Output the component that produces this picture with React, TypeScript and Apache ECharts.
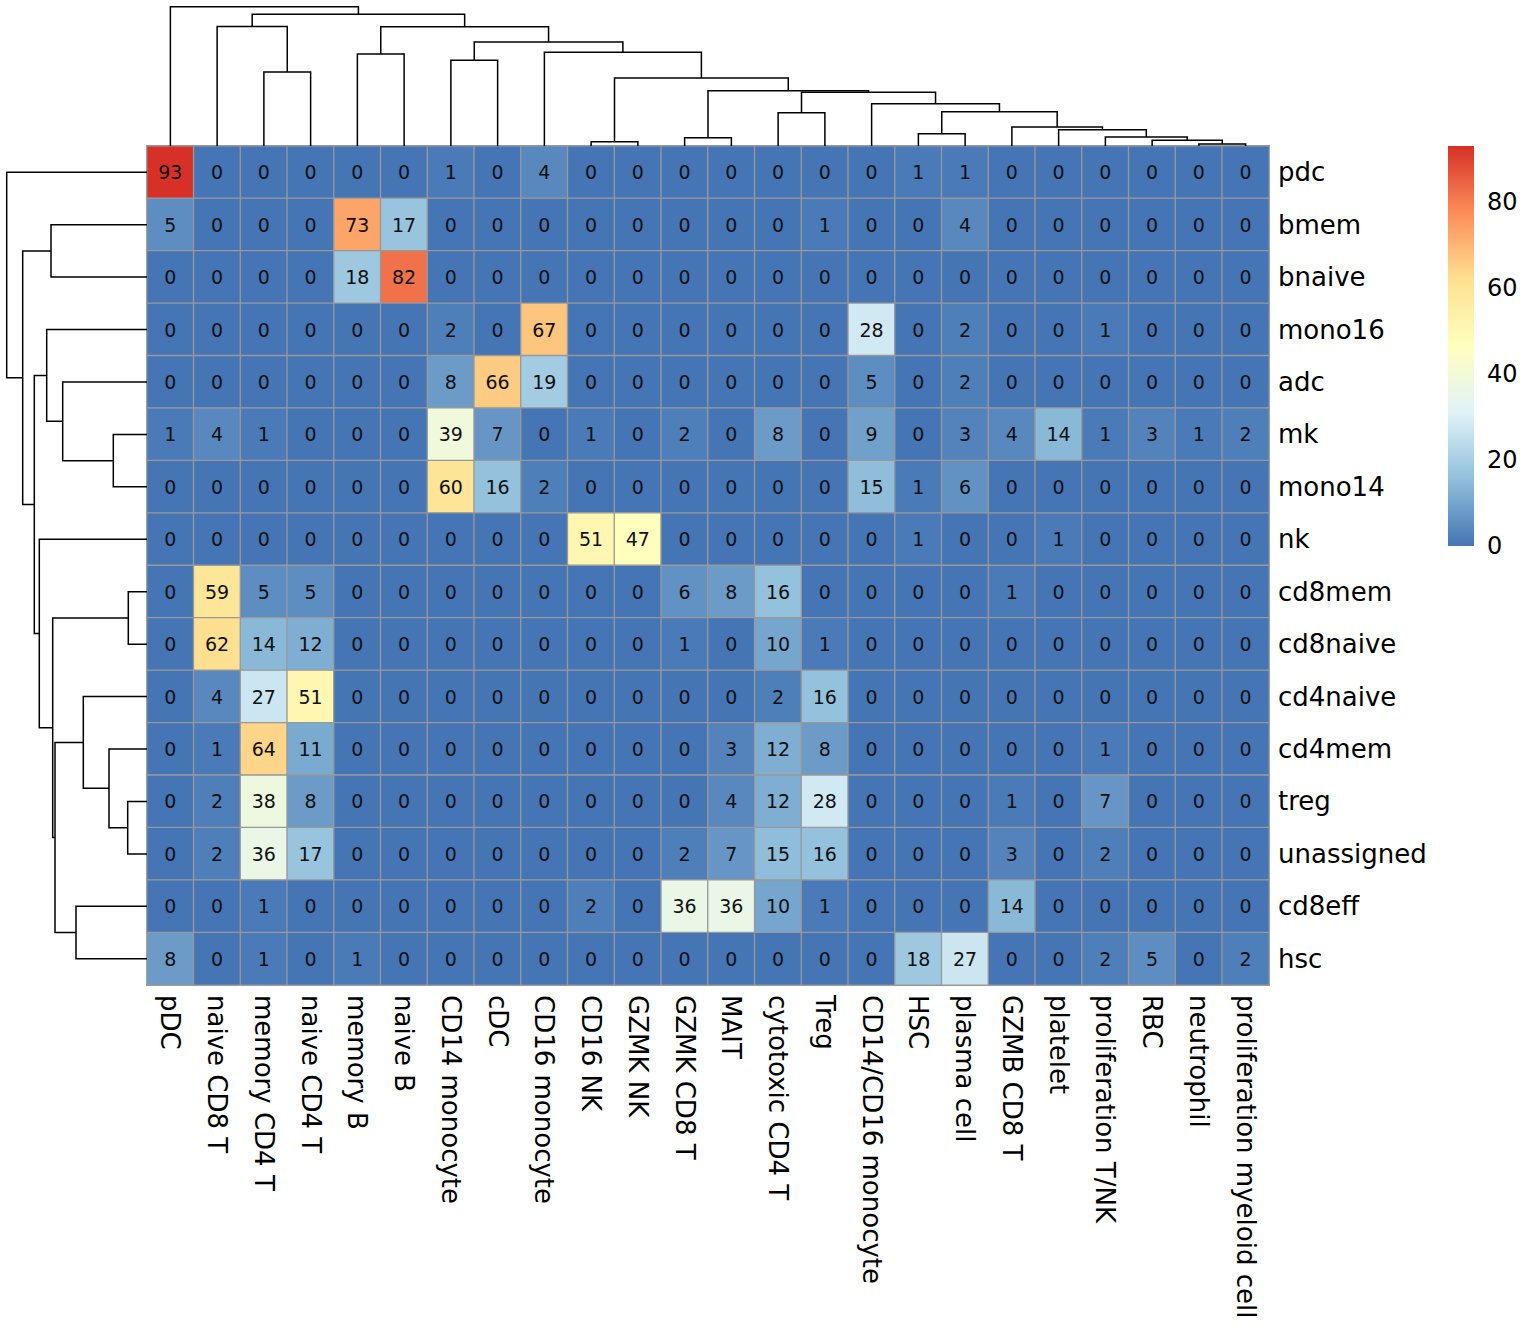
import React, { useEffect, useRef } from "react";
import * as echarts from "echarts";

const colLabels = [
  "pDC", "naive CD8 T", "memory CD4 T", "naive CD4 T", "memory B", "naive B",
  "CD14 monocyte", "cDC", "CD16 monocyte", "CD16 NK", "GZMK NK", "GZMK CD8 T",
  "MAIT", "cytotoxic CD4 T", "Treg", "CD14/CD16 monocyte", "HSC", "plasma cell",
  "GZMB CD8 T", "platelet", "proliferation T/NK", "RBC", "neutrophil",
  "proliferation myeloid cell",
];

const rowLabels = [
  "pdc", "bmem", "bnaive", "mono16", "adc", "mk", "mono14", "nk", "cd8mem",
  "cd8naive", "cd4naive", "cd4mem", "treg", "unassigned", "cd8eff", "hsc",
];

const values: number[][] = [
  [93, 0, 0, 0, 0, 0, 1, 0, 4, 0, 0, 0, 0, 0, 0, 0, 1, 1, 0, 0, 0, 0, 0, 0],
  [5, 0, 0, 0, 73, 17, 0, 0, 0, 0, 0, 0, 0, 0, 1, 0, 0, 4, 0, 0, 0, 0, 0, 0],
  [0, 0, 0, 0, 18, 82, 0, 0, 0, 0, 0, 0, 0, 0, 0, 0, 0, 0, 0, 0, 0, 0, 0, 0],
  [0, 0, 0, 0, 0, 0, 2, 0, 67, 0, 0, 0, 0, 0, 0, 28, 0, 2, 0, 0, 1, 0, 0, 0],
  [0, 0, 0, 0, 0, 0, 8, 66, 19, 0, 0, 0, 0, 0, 0, 5, 0, 2, 0, 0, 0, 0, 0, 0],
  [1, 4, 1, 0, 0, 0, 39, 7, 0, 1, 0, 2, 0, 8, 0, 9, 0, 3, 4, 14, 1, 3, 1, 2],
  [0, 0, 0, 0, 0, 0, 60, 16, 2, 0, 0, 0, 0, 0, 0, 15, 1, 6, 0, 0, 0, 0, 0, 0],
  [0, 0, 0, 0, 0, 0, 0, 0, 0, 51, 47, 0, 0, 0, 0, 0, 1, 0, 0, 1, 0, 0, 0, 0],
  [0, 59, 5, 5, 0, 0, 0, 0, 0, 0, 0, 6, 8, 16, 0, 0, 0, 0, 1, 0, 0, 0, 0, 0],
  [0, 62, 14, 12, 0, 0, 0, 0, 0, 0, 0, 1, 0, 10, 1, 0, 0, 0, 0, 0, 0, 0, 0, 0],
  [0, 4, 27, 51, 0, 0, 0, 0, 0, 0, 0, 0, 0, 2, 16, 0, 0, 0, 0, 0, 0, 0, 0, 0],
  [0, 1, 64, 11, 0, 0, 0, 0, 0, 0, 0, 0, 3, 12, 8, 0, 0, 0, 0, 0, 1, 0, 0, 0],
  [0, 2, 38, 8, 0, 0, 0, 0, 0, 0, 0, 0, 4, 12, 28, 0, 0, 0, 1, 0, 7, 0, 0, 0],
  [0, 2, 36, 17, 0, 0, 0, 0, 0, 0, 0, 2, 7, 15, 16, 0, 0, 0, 3, 0, 2, 0, 0, 0],
  [0, 0, 1, 0, 0, 0, 0, 0, 0, 2, 0, 36, 36, 10, 1, 0, 0, 0, 14, 0, 0, 0, 0, 0],
  [8, 0, 1, 0, 1, 0, 0, 0, 0, 0, 0, 0, 0, 0, 0, 0, 18, 27, 0, 0, 2, 5, 0, 2],
];

// hclust-style merges: negative = leaf (1-based), positive = earlier merge (1-based)
const colMerges: [number, number][] = [
  [-23, -24], [-22, 1], [-21, 2], [-20, 3], [-19, 4], [-17, -18], [6, 5],
  [-16, 7], [-14, -15], [9, 8], [-12, -13], [11, 10], [-10, -11], [13, 12],
  [-9, 14], [-7, -8], [16, 15], [-5, -6], [18, 17], [-3, -4], [-2, 20],
  [21, 19], [-1, 22],
];
const colHeights = [
  2, 5.7, 9, 16.3, 19, 12.3, 34.3, 42.3, 33.3, 53.7, 8.3, 55.3, 4.3, 68,
  93.7, 85.7, 104, 92, 119.3, 74, 119.5, 131.7, 139.3,
];

const rowMerges: [number, number][] = [
  [-13, -14], [-12, 1], [-11, 2], [-15, -16], [3, 4], [-9, -10], [6, 5],
  [-8, 7], [-6, -7], [-5, 9], [-4, 10], [11, 8], [-2, -3], [13, 12], [-1, 14],
];
const rowHeights = [
  19.3, 38, 63.7, 71, 92, 18.7, 94.3, 107.7, 33.7, 84.3, 100.3, 112.7, 96,
  124.3, 140.3,
];

const legendTicks = [0, 20, 40, 60, 80];
const palette = ["#4575B4", "#91BFDB", "#E0F3F8", "#FFFFBF", "#FEE090", "#FC8D59", "#D73027"];
const valueMax = 93;

function buildLinks(merges: [number, number][], heights: number[]) {
  const pos: number[] = [];
  const links: number[][] = [];
  merges.forEach(([a, b], k) => {
    const pa = a < 0 ? -a - 1 + 0.5 : pos[a - 1];
    const ha = a < 0 ? 0 : heights[a - 1];
    const pb = b < 0 ? -b - 1 + 0.5 : pos[b - 1];
    const hb = b < 0 ? 0 : heights[b - 1];
    pos[k] = (pa + pb) / 2;
    links.push([pa, ha, pb, hb, heights[k]]);
  });
  return links;
}

const FONT = "DejaVu Sans";

export default function App() {
  const ref = useRef<HTMLDivElement>(null);
  useEffect(() => {
    if (!ref.current) return;
    const chart = echarts.init(ref.current, undefined, { renderer: "svg" });

    const heatData: number[][] = [];
    values.forEach((row, r) => row.forEach((v, c) => heatData.push([c, r, v])));

    const colLinks = buildLinks(colMerges, colHeights);
    const rowLinks = buildLinks(rowMerges, rowHeights);
    const colMaxH = Math.max(...colHeights);
    const rowMaxH = Math.max(...rowHeights);

    const gridL = 147, gridT = 146, gridW = 1122, gridH = 839;

    const option: any = {
      animation: false,
      backgroundColor: "#ffffff",
      textStyle: { fontFamily: FONT },
      grid: [
        { left: gridL, top: gridT, width: gridW, height: gridH },
        { left: gridL, top: gridT - 139.3, width: gridW, height: 139.3 },
        { left: gridL - 140.3, top: gridT, width: 140.3, height: gridH },
        { left: 1448, top: 146, width: 26, height: 400 },
      ],
      xAxis: [
        {
          gridIndex: 0, type: "category", data: colLabels, position: "bottom",
          axisLine: { show: false }, axisTick: { show: false }, splitLine: { show: false },
          axisLabel: { rotate: -90, margin: 10, fontSize: 26, color: "#000", fontFamily: FONT, interval: 0 },
        },
        { gridIndex: 1, type: "value", min: 0, max: 24, show: false },
        { gridIndex: 2, type: "value", min: 0, max: rowMaxH, inverse: true, show: false },
        { gridIndex: 3, type: "value", min: 0, max: 1, show: false },
      ],
      yAxis: [
        {
          gridIndex: 0, type: "category", data: rowLabels, inverse: true, position: "right",
          axisLine: { show: false }, axisTick: { show: false }, splitLine: { show: false },
          axisLabel: { margin: 9, fontSize: 26, color: "#000", fontFamily: FONT, interval: 0 },
        },
        { gridIndex: 1, type: "value", min: 0, max: colMaxH, show: false },
        { gridIndex: 2, type: "value", min: 0, max: 16, inverse: true, show: false },
        {
          gridIndex: 3, type: "value", min: 0, max: valueMax, interval: 20, position: "right",
          axisLine: { show: false }, axisTick: { show: false }, splitLine: { show: false },
          axisLabel: {
            margin: 13, fontSize: 24, color: "#000", fontFamily: FONT, showMaxLabel: false,
            formatter: (v: number) => (legendTicks.includes(v) ? String(v) : ""),
          },
        },
      ],
      visualMap: {
        type: "continuous", min: 0, max: valueMax, dimension: 2, seriesIndex: 0,
        show: false, inRange: { color: palette },
      },
      series: [
        {
          type: "heatmap", xAxisIndex: 0, yAxisIndex: 0, data: heatData,
          itemStyle: { borderColor: "#999999", borderWidth: 1.3 },
          label: {
            show: true, fontSize: 19, color: "#111", fontFamily: FONT,
            formatter: (p: any) => String(Math.round(p.value[2])),
          },
          emphasis: { disabled: true },
        },
        {
          type: "custom", xAxisIndex: 1, yAxisIndex: 1, data: colLinks, clip: false,
          renderItem: (_p: any, api: any) => {
            const xl = api.value(0), hl = api.value(1), xr = api.value(2), hr = api.value(3), h = api.value(4);
            return {
              type: "polyline",
              shape: { points: [api.coord([xl, hl]), api.coord([xl, h]), api.coord([xr, h]), api.coord([xr, hr])] },
              style: { stroke: "#000", fill: "none", lineWidth: 1.5 },
            };
          },
        },
        {
          type: "custom", xAxisIndex: 2, yAxisIndex: 2, data: rowLinks, clip: false,
          renderItem: (_p: any, api: any) => {
            const yl = api.value(0), hl = api.value(1), yr = api.value(2), hr = api.value(3), h = api.value(4);
            return {
              type: "polyline",
              shape: { points: [api.coord([hl, yl]), api.coord([h, yl]), api.coord([h, yr]), api.coord([hr, yr])] },
              style: { stroke: "#000", fill: "none", lineWidth: 1.5 },
            };
          },
        },
        {
          type: "custom", xAxisIndex: 3, yAxisIndex: 3, data: [[0, 0]], clip: false,
          renderItem: (_p: any, api: any) => {
            const p0 = api.coord([0, 0]);
            const p1 = api.coord([1, valueMax]);
            const stops = palette.map((c, i) => ({ offset: i / (palette.length - 1), color: c }));
            return {
              type: "rect",
              shape: { x: p0[0], y: p1[1], width: p1[0] - p0[0], height: p0[1] - p1[1] },
              style: { fill: new echarts.graphic.LinearGradient(0, 1, 0, 0, stops) },
            };
          },
        },
      ],
    };
    chart.setOption(option);
    return () => chart.dispose();
  }, []);

  return (
    <div
      ref={ref}
      style={{ position: "absolute", left: 0, top: 0, width: 1536, height: 1344, background: "#fff" }}
    />
  );
}
